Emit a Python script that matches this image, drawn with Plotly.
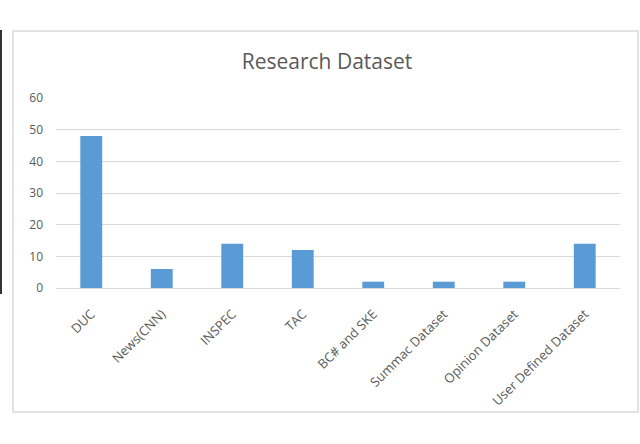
import plotly.graph_objects as go

categories = ["DUC", "News(CNN)", "INSPEC", "TAC", "BC# and SKE",
              "Summac Dataset", "Opinion Dataset", "User Defined Dataset"]
values = [48, 6, 14, 12, 2, 2, 2, 14]
y_ticks = [0, 10, 20, 30, 40, 50, 60]

W, H = 640, 444
L, R, T, B = 56, 20, 98, 156
pw, ph = W - L - R, H - T - B

def px(x):
    return (x - L) / pw

def py(y):
    return (H - B - y) / ph

text_col = "#595959"
font_fam = "Open Sans, Noto Sans, sans-serif"

fig = go.Figure(go.Bar(
    x=categories, y=values,
    marker=dict(color="#5B9BD5", line=dict(width=0)),
    width=0.31,
))

fig.update_layout(
    width=W, height=H,
    margin=dict(l=L, r=R, t=T, b=B),
    paper_bgcolor="white", plot_bgcolor="white",
    showlegend=False,
    title=dict(text="Research Dataset", x=327 / W, xanchor="center",
               y=1 - 62 / H, yanchor="middle",
               font=dict(family=font_fam, size=21, color=text_col)),
    xaxis=dict(tickangle=-45, tickfont=dict(family=font_fam, size=13, color=text_col),
               showgrid=False, showline=False, zeroline=False, ticks="",
               ticklabelstandoff=15),
    yaxis=dict(range=[0, 60], tickvals=y_ticks,
               tickfont=dict(family=font_fam, size=12, color=text_col),
               showgrid=True, gridcolor="#d9d9d9", gridwidth=1,
               zeroline=True, zerolinecolor="#d9d9d9", zerolinewidth=1,
               showline=False, ticks="", ticklabelstandoff=12),
    shapes=[
        dict(type="rect", xref="paper", yref="paper",
             x0=px(13), x1=px(638), y0=py(31), y1=py(412),
             line=dict(color="#d9d9d9", width=1.5), fillcolor="rgba(0,0,0,0)", layer="below"),
        dict(type="line", xref="paper", yref="paper",
             x0=px(1), x1=px(1), y0=py(30), y1=py(294),
             line=dict(color="#333333", width=2)),
    ],
)

fig.write_html("out.html", config={"displayModeBar": False},
               post_script="document.body.style.margin='0';document.body.style.overflow='hidden';")
